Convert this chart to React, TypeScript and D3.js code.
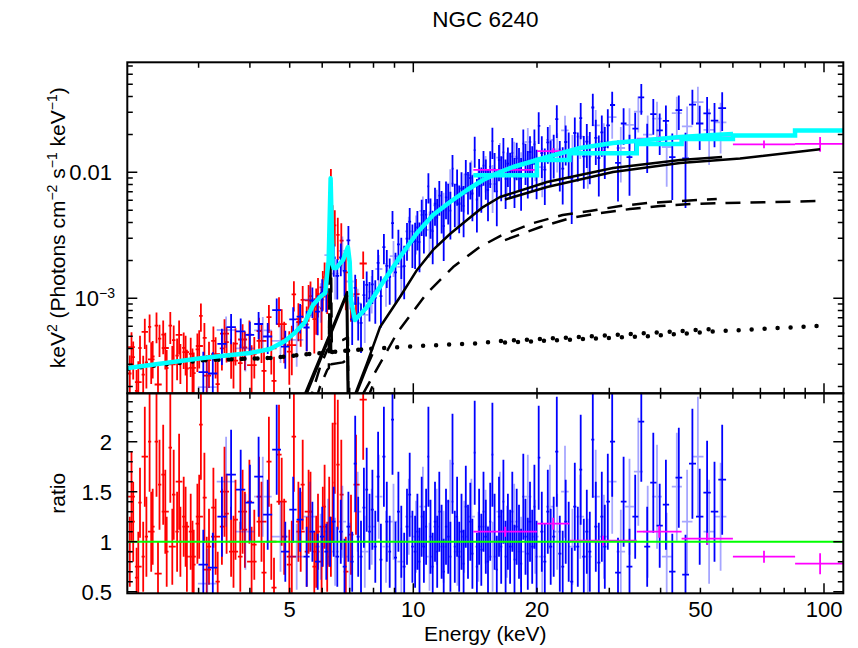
import React from "react";
import * as d3 from "d3";

// ---------------- axis ranges & ticks ----------------
const energyDomain: [number, number] = [2.012, 111.4];
const fluxDomain: [number, number] = [1.762e-4, 0.0747];
const ratioDomain: [number, number] = [0.484, 2.484];
const xMajorTicks = [10, 100];
const xMinorTicks = [3, 4, 5, 6, 7, 8, 9, 20, 30, 40, 50, 60, 70, 80, 90];
const xTickLabels = [5, 10, 20, 50, 100];
const ratioMajorTicks = [0.5, 1, 1.5, 2];
const ratioMinorTicks = [0.6, 0.7, 0.8, 0.9, 1.1, 1.2, 1.3, 1.4, 1.6, 1.7, 1.8, 1.9, 2.1, 2.2, 2.3, 2.4];
const fluxMajorTicks = [1e-3, 1e-2];
const FLUX_UNIT = 1e-3; // all flux arrays below are in units of 1e-3

// ---------------- XMM pn (red) ----------------
const xmmEnergy = [2.04,2.08,2.12,2.16,2.20,2.24,2.28,2.32,2.37,2.41,2.46,2.51,2.56,2.61,2.66,2.71,2.76,2.81,2.87,2.92,2.98,
  3.04,3.10,3.18,3.26,3.34,3.42,3.51,3.60,3.69,3.79,3.89,3.99,4.10,4.21,4.33,4.45,4.58,4.71,4.85,
  4.99,5.12,5.25,5.38,5.50,5.62,5.74,5.86,5.98,6.08,6.17,6.24,6.30,6.36,6.44,6.55,6.68,6.85,7.05,7.25,7.55];
const xmmRatio = [0.90,1.20,0.64,1.39,0.85,1.05,2.00,1.15,2.00,1.57,1.67,0.90,1.94,1.47,1.10,1.00,1.25,0.85,1.10,0.77,1.18,
  2.17,1.44,0.95,1.34,0.60,1.15,1.28,1.00,1.22,0.85,1.12,1.40,0.97,1.45,0.69,1.80,0.54,1.87,1.05,
  0.77,2.05,1.20,1.57,0.90,1.30,0.75,1.10,0.80,1.35,0.85,1.20,0.95,1.59,2.18,1.77,1.47,0.70,1.07,1.57,2.42];
const xmmRatioErr = [0.35,0.40,0.30,0.35,0.35,0.40,0.50,0.38,0.55,0.45,0.50,0.35,0.55,0.45,0.40,0.35,0.40,0.35,0.38,0.35,0.40,
  0.55,0.45,0.38,0.40,0.30,0.38,0.40,0.35,0.40,0.35,0.38,0.42,0.35,0.40,0.30,0.45,0.30,0.50,0.38,
  0.35,0.55,0.40,0.45,0.35,0.40,0.35,0.38,0.35,0.42,0.35,0.45,0.30,0.60,0.70,0.65,0.55,0.35,0.40,0.50,0.60];
const xmmFlux = [0.253,0.341,0.184,0.403,0.248,0.310,0.594,0.345,0.606,0.479,0.514,0.280,0.607,0.465,0.351,0.321,0.405,0.277,0.362,0.255,0.393,
  0.727,0.485,0.323,0.460,0.208,0.400,0.449,0.354,0.436,0.306,0.407,0.514,0.362,0.550,0.266,0.709,0.221,0.804,0.478,
  0.377,1.076,0.684,0.973,0.621,1.04,0.683,1.078,0.832,1.47,1.275,3.6,8.08,3.98,3.79,3.19,2.87,1.61,1.04,1.08,1.89];

// ---------------- XMM MOS (red) ----------------
const mosEnergy = [2.06,2.14,2.22,2.30,2.39,2.49,2.59,2.69,2.79,2.90,3.01,3.14,3.30,3.47,3.65,3.84,4.04,4.27,4.51,4.78,5.06,5.32,5.56,5.80,6.02];
const mosRatio = [1.45,0.75,1.85,1.10,0.68,1.30,0.95,1.60,1.15,0.85,1.25,0.72,1.05,1.50,0.90,1.30,0.80,1.20,1.00,1.40,0.85,1.10,1.30,0.90,1.15];
const mosRatioErr = [0.45,0.35,0.50,0.40,0.32,0.42,0.38,0.48,0.40,0.36,0.42,0.33,0.38,0.45,0.36,0.42,0.35,0.40,0.38,0.44,0.36,0.40,0.42,0.36,0.40];
const mosFlux = [0.410,0.216,0.542,0.328,0.207,0.403,0.299,0.512,0.374,0.281,0.418,0.243,0.361,0.525,0.320,0.471,0.295,0.460,0.400,0.623,0.425,0.649,0.962,0.855,1.22];

// ---------------- NuSTAR FPMA (blue) ----------------
const nuAEnergy = [3.08,3.25,3.42,3.6,3.8,4.0,4.2,4.42,4.65,4.88,
  5.1,5.3,5.5,5.68,5.85,6.0,6.14,6.27,6.4,6.53,6.66,6.8,6.95,7.1,
  7.22,7.34,7.46,7.58,7.70,7.82,7.95,8.08,8.21,8.34,8.48,8.62,8.76,8.90,9.05,9.20,9.35,9.50,9.65,9.80,9.95,
  10.10,10.23,10.35,10.48,10.61,10.74,10.88,11.01,11.15,11.29,11.43,11.57,11.72,11.86,12.01,12.16,12.31,12.46,12.62,12.78,
  12.93,13.10,13.26,13.42,13.59,13.76,13.93,14.11,14.28,14.46,14.64,14.82,15.01,15.20,15.39,15.58,15.77,15.97,16.17,16.37,
  16.57,16.78,16.99,17.20,17.42,17.63,17.85,18.08,18.30,18.53,18.76,19.00,19.23,19.47,19.72,19.96,
  20.2,20.55,20.9,21.25,21.6,21.97,22.35,22.73,23.11,23.5,23.9,24.3,24.72,25.14,25.56,26.0,26.44,26.89,27.35,27.81,28.28,28.76,29.25,29.75,
  30.5,31.5,32.5,33.6,34.7,35.9,37.1,38.4,39.8,41.2,42.7,44.3,46.0,47.8,49.8,51.9,54.1,56.5];
const nuARatio = [0.77,0.74,1.25,1.67,1.52,1.39,1.65,1.27,1.92,0.90,
  1.32,1.22,0.85,1.10,0.80,1.05,0.90,1.00,1.20,0.85,1.10,0.75,1.15,0.80,
  1.78,1.05,0.85,1.34,1.52,1.10,1.32,0.95,1.65,0.82,1.85,1.20,0.90,2.22,0.84,1.30,1.00,0.75,1.15,1.47,0.95,
  0.90,1.10,0.80,1.25,0.95,1.15,1.85,1.05,0.75,1.20,0.90,1.30,1.00,0.70,1.15,1.05,0.85,1.78,0.95,1.25,
  0.85,1.10,0.78,1.35,1.00,1.20,0.88,1.89,0.75,1.15,0.92,1.30,1.05,0.80,1.20,1.87,1.10,0.72,1.25,0.95,
  1.40,0.85,1.10,0.95,1.30,0.82,1.15,1.00,0.78,1.45,1.05,0.88,1.20,0.95,1.35,0.85,
  1.84,1.10,0.80,1.30,0.95,1.05,1.90,0.88,0.75,1.20,1.00,0.60,1.35,0.95,1.72,0.85,1.10,0.90,2.02,1.15,0.79,1.25,0.95,1.40,
  2.00,0.69,1.40,0.75,1.25,2.20,0.95,1.59,1.16,1.37,0.70,1.64,0.67,1.78,1.25,1.49,1.30,1.62];
const nuARatioErr = [0.35,0.35,0.40,0.45,0.40,0.38,0.40,0.35,0.45,0.30,
  0.33,0.32,0.30,0.30,0.28,0.30,0.28,0.25,0.35,0.30,0.32,0.28,0.35,0.30,
  0.48,0.40,0.36,0.40,0.42,0.38,0.40,0.36,0.45,0.36,0.50,0.40,0.36,0.55,0.36,0.40,0.36,0.34,0.38,0.42,0.36,
  0.36,0.38,0.34,0.40,0.36,0.38,0.50,0.37,0.34,0.40,0.36,0.40,0.37,0.33,0.38,0.37,0.35,0.50,0.36,0.40,
  0.35,0.38,0.34,0.41,0.37,0.39,0.35,0.52,0.34,0.38,0.36,0.40,0.37,0.35,0.39,0.52,0.38,0.34,0.40,0.37,
  0.42,0.36,0.38,0.37,0.40,0.35,0.38,0.37,0.35,0.43,0.38,0.36,0.40,0.37,0.42,0.36,
  0.52,0.40,0.38,0.42,0.38,0.40,0.55,0.38,0.36,0.42,0.40,0.34,0.44,0.40,0.55,0.38,0.42,0.40,0.58,0.45,0.40,0.45,0.42,0.48,
  0.55,0.35,0.45,0.38,0.42,0.60,0.40,0.50,0.42,0.45,0.38,0.50,0.40,0.55,0.48,0.52,0.50,0.55];
const nuAFlux = [0.259,0.253,0.435,0.591,0.547,0.512,0.625,0.498,0.806,0.414,
  0.680,0.714,0.587,0.957,0.784,1.10,1.125,6.0,2.09,1.51,2.11,1.65,2.88,0.68,
  1.21,0.746,0.638,1.06,1.28,1.00,1.29,1.01,1.91,1.04,2.55,1.81,1.48,3.95,1.61,2.68,2.22,1.80,2.97,4.06,2.80,
  2.84,3.66,2.80,4.59,3.65,4.61,7.75,4.59,3.41,5.65,4.38,6.54,5.19,3.75,6.34,5.96,4.97,10.7,5.89,7.99,
  5.58,7.44,5.42,9.63,7.33,9.02,6.79,15.0,6.09,9.57,7.85,11.3,9.36,7.27,11.1,17.7,10.6,7.06,12.5,9.64,
  14.4,8.89,11.7,10.3,14.3,9.10,12.9,11.4,8.98,16.9,12.4,10.5,14.5,11.6,16.7,10.6,
  23.4,14.2,10.5,17.3,12.8,14.4,26.4,12.4,10.7,17.4,14.75,8.97,20.5,14.6,26.9,13.4,17.5,14.5,32.7,18.8,13.0,20.8,15.9,23.6,
  34.2,11.9,24.4,13.2,22.2,39.4,17.1,29.0,21.5,25.6,13.2,31.2,12.9,34.5,24.4,29.4,25.7,32.3];

// ---------------- NuSTAR FPMB (light blue) ----------------
const nuBEnergy = [3.15,3.5,3.9,4.3,4.75,5.2,5.6,5.95,6.2,6.45,6.72,7.0,7.32,7.62,7.92,8.24,8.58,8.95,9.35,9.75,
  10.15,10.55,10.95,11.4,11.85,12.3,12.8,13.3,13.85,14.4,15.0,15.6,16.25,16.9,17.6,18.3,19.0,19.8,20.6,21.5,
  22.4,23.4,24.4,25.5,26.6,27.8,29.1,30.5,32.0,33.6,35.3,37.2,39.2,41.4,43.8,46.4,49.3,52.5,56.0];
const nuBRatio = [0.58,1.60,1.10,1.45,1.05,0.85,1.25,0.95,1.10,0.90,1.20,0.85,1.30,0.90,1.15,1.45,0.95,1.20,0.80,1.25,
  1.05,1.35,0.85,1.15,0.95,1.40,0.90,1.05,1.25,0.95,1.15,0.85,1.30,1.00,1.20,0.90,1.45,1.05,0.85,1.35,
  1.10,1.50,0.95,1.25,0.85,1.45,1.05,1.60,0.90,1.35,1.70,1.10,1.45,0.85,1.55,1.20,1.85,1.10,1.25];
const nuBRatioErr = [0.35,0.45,0.38,0.40,0.35,0.33,0.35,0.33,0.33,0.34,0.36,0.34,0.40,0.36,0.38,0.42,0.36,0.38,0.34,0.38,
  0.36,0.40,0.34,0.38,0.36,0.42,0.34,0.36,0.38,0.35,0.37,0.35,0.40,0.36,0.38,0.35,0.42,0.37,0.36,0.42,
  0.38,0.46,0.38,0.42,0.38,0.47,0.42,0.52,0.42,0.48,0.54,0.46,0.52,0.44,0.54,0.52,0.60,0.52,0.54];
const nuBFlux = [0.197,0.56,0.40,0.557,0.459,0.468,0.975,0.979,2.2,1.57,2.38,1.36,0.91,0.738,1.13,1.71,1.38,2.16,1.78,3.40,
  3.38,4.95,3.50,5.46,4.99,8.13,5.72,7.30,9.5,7.74,10.2,8.08,13.1,10.55,13.3,10.4,17.4,13.1,11.0,18.1,
  15.2,21.5,14.1,19.2,13.4,23.6,17.5,27.4,15.6,23.8,30.3,19.9,26.7,15.9,29.5,23.2,36.1,21.7,24.9];

// ---------------- Swift/BAT (magenta) ----------------
const batEdges = [14, 20, 24, 35, 45, 60, 85, 112.5];
const batRatio = [1.10, 1.18, 1.01, 1.10, 1.03, 0.85, 0.78];
const batRatioErr = [0.05, 0.06, 0.05, 0.06, 0.06, 0.06, 0.105];
const batFlux = [10.45, 14.75, 14.3, 18.5, 18.95, 16.7, 16.8];
const batModel = [9.5, 12.5, 14.2, 16.8, 18.4, 19.6, 21.5];

// ---------------- model curves (E keV, flux 1e-3) ----------------
const totalModelE = [2.02,3.07,4.00,4.48,4.87,5.14,5.45,5.70,5.93,6.10,6.20,6.22,6.29,6.36,6.40,6.49,6.74,6.93,7.00,7.05,
  7.21,7.72,8.44,9.28,10.21,11.17,12.28,13.51,14.78,16.26,17.49,21.17,25.47,30.64,37.08,44.61,53.69,60.04];
const totalModelF = [0.280,0.336,0.368,0.396,0.458,0.530,0.648,0.885,1.024,1.10,1.84,1.95,8.98,1.85,1.74,1.74,2.01,2.55,1.94,0.969,
  0.673,0.853,1.347,2.13,3.30,4.58,5.81,7.24,8.69,10.06,11.02,13.23,15.59,17.08,18.04,19.06,19.77,20.14];

const transNuE = [5.30,6.90,6.96,7.13,7.72,8.30,9.28,10.21,11.17,12.28,13.51,14.78,16.26,21.17,30.64,44.61,56.46];
const transNuF = [0.140,1.12,0.08,0.156,0.307,0.592,1.024,1.68,2.42,3.24,4.18,5.30,6.37,8.38,10.82,12.52,13.23];
const transXmmE = [5.30,6.88,6.95,7.13,7.72,7.95];
const transXmmF = [0.130,1.06,0.08,0.150,0.29,0.36];
const transBatE = [16.72,21.17,30.64,44.61,62.44,97.8];
const transBatF = [6.08,7.64,10.06,11.85,12.85,15.22];

const reflNuE = [5.55,5.93,6.17,6.23,6.28,6.33,6.74,6.93,6.96,7.40,9.13,10.8,12.5,14.5,16.26,19.6,23.1,26.9,31.9,37.08,44.61,54.8];
const reflNuF = [0.14,0.285,0.389,0.40,8.5,0.45,0.467,0.49,0.08,0.156,0.53,1.10,1.77,2.55,3.12,3.96,4.58,4.93,5.40,5.71,5.92,6.14];
const reflXmmE = [5.55,5.93,6.17,6.23,6.27,6.31,6.74,6.93,6.96,7.40,7.95];
const reflXmmF = [0.10,0.20,0.27,0.28,6.5,0.30,0.31,0.33,0.06,0.11,0.20];
const reflBatE = [16.72,20.4,24.1,28.5,33.7,39.9,47.2,58.0,97.8];
const reflBatF = [2.90,3.68,4.33,4.75,5.11,5.40,5.61,5.71,5.92];

const scatNuE = [3.07,4.48,5.30,7.13,9.28,11.6,14.48,16.26,25.47,37.08,53.69];
const scatNuF = [0.322,0.336,0.355,0.389,0.411,0.426,0.44,0.458,0.493,0.53,0.57];
const scatXmmE = [2.02,3.07,4.48,5.30,7.13,7.95];
const scatXmmF = [0.276,0.322,0.336,0.355,0.389,0.395];
const scatBatE = [16.72,37.08,53.69,96.2];
const scatBatF = [0.445,0.50,0.545,0.603];

// ---------------- layout ----------------
const W = 858, H = 648;
const X0 = 127.3, X1 = 843.3, YT = 62.3, YM = 393.3, YB = 593.3;
const FONT = "'Liberation Sans', Arial, Helvetica, sans-serif";
const FS = 21;
const TICK_FS = 22;

const x = d3.scaleLog().domain(energyDomain).range([X0, X1]);
const yF = d3.scaleLog().domain(fluxDomain).range([YM, YT]);
const yR = d3.scaleLinear().domain(ratioDomain).range([YB, YM]);

function binEdges(E: number[]): [number, number][] {
  return E.map((e, i) => {
    const prev = i > 0 ? E[i - 1] : (e * e) / E[i + 1];
    const next = i < E.length - 1 ? E[i + 1] : (e * e) / E[i - 1];
    return [Math.sqrt(prev * e), Math.sqrt(e * next)];
  });
}

function fluxBars(E: number[], F: number[], R: number[], RE: number[], edges?: [number, number][]) {
  const b = edges || binEdges(E);
  let p = "";
  E.forEach((e, i) => {
    const rel = RE[i] / R[i];
    const f = F[i] * FLUX_UNIT;
    const yc = yF(f);
    const yhi = yF(f * (1 + rel));
    const ylo = yF(Math.max(f * (1 - rel), 1e-9));
    const xc = x(e);
    p += `M${x(b[i][0]).toFixed(1)},${yc.toFixed(1)}H${x(b[i][1]).toFixed(1)}M${xc.toFixed(1)},${Math.min(ylo, 2000).toFixed(1)}V${yhi.toFixed(1)}`;
  });
  return p;
}

function ratioBars(E: number[], R: number[], RE: number[], edges?: [number, number][]) {
  const b = edges || binEdges(E);
  let p = "";
  E.forEach((e, i) => {
    const yc = yR(R[i]);
    const xc = x(e);
    p += `M${x(b[i][0]).toFixed(1)},${yc.toFixed(1)}H${x(b[i][1]).toFixed(1)}M${xc.toFixed(1)},${yR(R[i] - RE[i]).toFixed(1)}V${yR(R[i] + RE[i]).toFixed(1)}`;
  });
  return p;
}

const modelLine = d3
  .line<[number, number]>()
  .x((d) => x(d[0]))
  .y((d) => Math.min(yF(Math.max(d[1] * FLUX_UNIT, 1e-9)), 3000));

const zip = (E: number[], F: number[]) => E.map((e, i) => [e, F[i]] as [number, number]);

const batCenters = batRatio.map((_, i) => Math.sqrt(batEdges[i] * batEdges[i + 1]));
const batBins: [number, number][] = batRatio.map((_, i) => [batEdges[i], batEdges[i + 1]]);

const batStep = d3
  .line<[number, number]>()
  .curve(d3.curveStepAfter)
  .x((d) => x(d[0]))
  .y((d) => yF(d[1] * FLUX_UNIT));
const batStepData: [number, number][] = [
  ...batModel.map((m, i) => [batEdges[i], m] as [number, number]),
  [batEdges[batEdges.length - 1], batModel[batModel.length - 1]],
];

const fluxMinorTicks: number[] = [];
[1e-4, 1e-3, 1e-2].forEach((d) => {
  for (let k = 2; k <= 9; k++) {
    const v = k * d;
    if (v > fluxDomain[0] && v < fluxDomain[1]) fluxMinorTicks.push(v);
  }
});

const RED = "#ff0000";
const BLUE = "#0000ff";
const MAG = "#ff00ff";
const CYAN = "#00ffff";
const GREEN = "#00ff00";
const DATA_W = 1.8;

export default function App() {
  const tickPath = () => {
    let p = "";
    const MJ = 10, MN = 5.5;
    const xt = (v: number, len: number) => {
      const xx = x(v).toFixed(1);
      p += `M${xx},${YT}v${len}`;
      p += `M${xx},${YM}v${-len}`;
      p += `M${xx},${YM}v${len}`;
      p += `M${xx},${YB}v${-len}`;
    };
    xMajorTicks.forEach((v) => xt(v, MJ));
    xMinorTicks.forEach((v) => xt(v, MN));
    const yt = (yy: number, len: number) => {
      p += `M${X0},${yy.toFixed(1)}h${len}M${X1},${yy.toFixed(1)}h${-len}`;
    };
    fluxMajorTicks.forEach((v) => yt(yF(v), MJ));
    fluxMinorTicks.forEach((v) => yt(yF(v), MN));
    ratioMajorTicks.forEach((v) => yt(yR(v), MJ));
    ratioMinorTicks.forEach((v) => yt(yR(v), MN));
    return p;
  };

  const supDy = -8;
  const supFs = 14;
  const dotted = { strokeDasharray: "0 13", strokeLinecap: "round" as const, strokeWidth: 4.5 };
  const dashed = { strokeDasharray: "15 10" };

  return (
    <svg
      width={W}
      height={H}
      viewBox={`0 0 ${W} ${H}`}
      style={{ position: "absolute", left: 0, top: 0, background: "#fff" }}
      fontFamily={FONT}
    >
      <defs>
        <clipPath id="clipTop">
          <rect x={X0} y={YT} width={X1 - X0} height={YM - YT} />
        </clipPath>
        <clipPath id="clipBot">
          <rect x={X0} y={YM} width={X1 - X0} height={YB - YM} />
        </clipPath>
      </defs>
      <rect x={0} y={0} width={W} height={H} fill="#fff" />

      {/* ---------- top panel ---------- */}
      <g clipPath="url(#clipTop)" fill="none">
        <path d={fluxBars(xmmEnergy, xmmFlux, xmmRatio, xmmRatioErr)} stroke={RED} strokeWidth={DATA_W} />
        <path d={fluxBars(mosEnergy, mosFlux, mosRatio, mosRatioErr)} stroke={RED} strokeWidth={DATA_W} />
        <path d={fluxBars(nuBEnergy, nuBFlux, nuBRatio, nuBRatioErr)} stroke={BLUE} strokeOpacity={0.35} strokeWidth={DATA_W} />
        <path d={fluxBars(nuAEnergy, nuAFlux, nuARatio, nuARatioErr)} stroke={BLUE} strokeWidth={DATA_W} />
        <path d={fluxBars(batCenters, batFlux, batRatio, batRatioErr, batBins)} stroke={MAG} strokeWidth={DATA_W} />

        {/* model components */}
        <g stroke="#000" strokeWidth={2.5} strokeLinejoin="round">
          <path d={modelLine(zip(transXmmE, transXmmF)) || ""} />
          <path d={modelLine(zip(transNuE, transNuF)) || ""} />
          <path d={modelLine(zip(transBatE, transBatF)) || ""} />
          <path d={modelLine(zip(reflXmmE, reflXmmF)) || ""} {...dashed} />
          <path d={modelLine(zip(reflNuE, reflNuF)) || ""} {...dashed} />
          <path d={modelLine(zip(reflBatE, reflBatF)) || ""} {...dashed} />
          <path d={modelLine(zip(scatXmmE, scatXmmF)) || ""} {...dotted} />
          <path d={modelLine(zip(scatNuE, scatNuF)) || ""} {...dotted} />
          <path d={modelLine(zip(scatBatE, scatBatF)) || ""} {...dotted} />
        </g>

        {/* total model */}
        <path d={modelLine(zip(totalModelE, totalModelF)) || ""} stroke={CYAN} strokeWidth={4.5} strokeLinejoin="round" />
        <path d={batStep(batStepData) || ""} stroke={CYAN} strokeWidth={4.5} />
      </g>

      {/* ---------- ratio panel ---------- */}
      <g clipPath="url(#clipBot)" fill="none">
        <path d={ratioBars(xmmEnergy, xmmRatio, xmmRatioErr)} stroke={RED} strokeWidth={DATA_W} />
        <path d={ratioBars(mosEnergy, mosRatio, mosRatioErr)} stroke={RED} strokeWidth={DATA_W} />
        <path d={ratioBars(nuBEnergy, nuBRatio, nuBRatioErr)} stroke={BLUE} strokeOpacity={0.35} strokeWidth={DATA_W} />
        <path d={ratioBars(nuAEnergy, nuARatio, nuARatioErr)} stroke={BLUE} strokeWidth={DATA_W} />
        <path d={ratioBars(batCenters, batRatio, batRatioErr, batBins)} stroke={MAG} strokeWidth={DATA_W} />
        <line x1={X0} x2={X1} y1={yR(1)} y2={yR(1)} stroke={GREEN} strokeWidth={2} />
      </g>

      {/* ---------- frames & ticks ---------- */}
      <path d={tickPath()} stroke="#000" strokeWidth={1.5} fill="none" />
      <rect x={X0} y={YT} width={X1 - X0} height={YM - YT} fill="none" stroke="#000" strokeWidth={2} />
      <rect x={X0} y={YM} width={X1 - X0} height={YB - YM} fill="none" stroke="#000" strokeWidth={2} />

      {/* ---------- labels ---------- */}
      <g fontSize={FS} fill="#000">
        <text x={(X0 + X1) / 2} y={27} textAnchor="middle" fontSize={22.5}>NGC 6240</text>

        {xTickLabels.map((v) => (
          <text key={v} x={x(v)} y={617} textAnchor="middle" fontSize={TICK_FS}>{v}</text>
        ))}
        <text x={(X0 + X1) / 2} y={641} textAnchor="middle">Energy (keV)</text>

        <text x={112} y={yF(1e-2)} dy="0.36em" textAnchor="end" fontSize={TICK_FS}>0.01</text>
        <text x={115} y={yF(1e-3)} dy="0.36em" textAnchor="end" fontSize={TICK_FS}>
          10<tspan dy={supDy} fontSize={supFs}>−3</tspan>
        </text>

        {ratioMajorTicks.map((v) => (
          <text key={v} x={112} y={yR(v)} dy="0.36em" textAnchor="end" fontSize={TICK_FS}>{String(v)}</text>
        ))}

        <text transform={`translate(65,${(YT + YM) / 2}) rotate(-90)`} textAnchor="middle">
          keV<tspan dy={supDy} fontSize={supFs}>2</tspan>
          <tspan dy={-supDy}>{" (Photons cm"}</tspan>
          <tspan dy={supDy} fontSize={supFs}>−2</tspan>
          <tspan dy={-supDy}>{" s"}</tspan>
          <tspan dy={supDy} fontSize={supFs}>−1</tspan>
          <tspan dy={-supDy}>{" keV"}</tspan>
          <tspan dy={supDy} fontSize={supFs}>−1</tspan>
          <tspan dy={-supDy}>)</tspan>
        </text>
        <text transform={`translate(65,${(YM + YB) / 2}) rotate(-90)`} textAnchor="middle">ratio</text>
      </g>
    </svg>
  );
}
